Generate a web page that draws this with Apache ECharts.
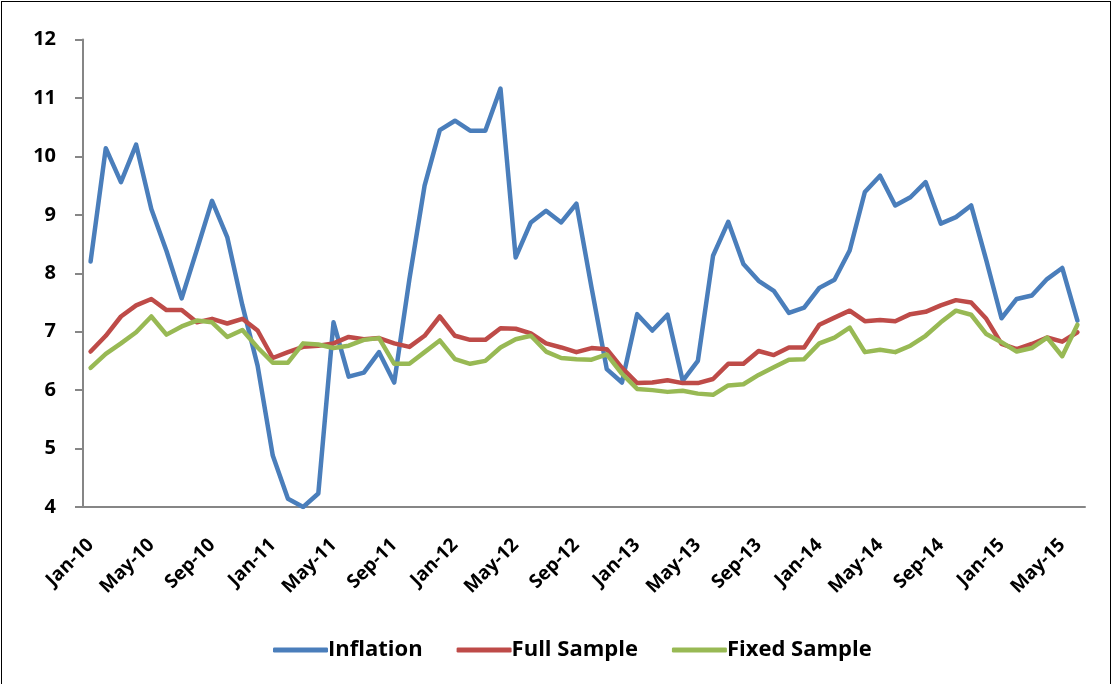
<!DOCTYPE html>
<html>
<head>
<meta charset="utf-8">
<script src="https://cdn.jsdelivr.net/npm/echarts@6/dist/echarts.min.js"></script>
<style>
  body { margin: 0; background: #fff; }
  #wrap { position: relative; width: 1113px; height: 684px; }
  #main { width: 1113px; height: 684px; }
  #frame { position: absolute; left: 1px; top: 1px; width: 1110px; height: 690px;
           border: 1px solid #000; box-sizing: border-box; pointer-events: none; }
</style>
</head>
<body>
<div id="wrap">
  <div id="main"></div>
  <div id="frame"></div>
</div>
<script>
// months Jan-10 .. Jun-15
var months = [
  'Jan-10','Feb-10','Mar-10','Apr-10','May-10','Jun-10','Jul-10','Aug-10','Sep-10','Oct-10','Nov-10','Dec-10',
  'Jan-11','Feb-11','Mar-11','Apr-11','May-11','Jun-11','Jul-11','Aug-11','Sep-11','Oct-11','Nov-11','Dec-11',
  'Jan-12','Feb-12','Mar-12','Apr-12','May-12','Jun-12','Jul-12','Aug-12','Sep-12','Oct-12','Nov-12','Dec-12',
  'Jan-13','Feb-13','Mar-13','Apr-13','May-13','Jun-13','Jul-13','Aug-13','Sep-13','Oct-13','Nov-13','Dec-13',
  'Jan-14','Feb-14','Mar-14','Apr-14','May-14','Jun-14','Jul-14','Aug-14','Sep-14','Oct-14','Nov-14','Dec-14',
  'Jan-15','Feb-15','Mar-15','Apr-15','May-15','Jun-15'
];

var inflation = [
  8.20, 10.14, 9.56, 10.20, 9.10, 8.38, 7.57, 8.40, 9.24, 8.62,
  7.45, 6.42, 4.88, 4.14, 4.00, 4.23, 7.16, 6.23, 6.30, 6.65,
  6.13, 7.90, 9.50, 10.45, 10.61, 10.44, 10.44, 11.16, 8.27, 8.87,
  9.07, 8.87, 9.19, 7.75, 6.36, 6.13, 7.30, 7.02, 7.29, 6.16,
  6.50, 8.30, 8.88, 8.16, 7.87, 7.70, 7.32, 7.41, 7.75, 7.89,
  8.39, 9.39, 9.67, 9.16, 9.30, 9.56, 8.85, 8.96, 9.16, 8.22,
  7.23, 7.56, 7.62, 7.90, 8.09, 7.19
];

var fullSample = [
  6.66, 6.93, 7.26, 7.45, 7.56, 7.37, 7.37, 7.16, 7.22, 7.14,
  7.22, 7.02, 6.55, 6.65, 6.74, 6.76, 6.80, 6.91, 6.87, 6.89,
  6.80, 6.74, 6.93, 7.26, 6.93, 6.86, 6.86, 7.06, 7.05, 6.97,
  6.80, 6.73, 6.65, 6.72, 6.70, 6.38, 6.12, 6.13, 6.17, 6.12,
  6.12, 6.19, 6.45, 6.45, 6.67, 6.60, 6.73, 6.73, 7.12, 7.24,
  7.36, 7.18, 7.20, 7.18, 7.30, 7.34, 7.45, 7.54, 7.50, 7.22,
  6.79, 6.70, 6.79, 6.90, 6.83, 6.99
];

var fixedSample = [
  6.38, 6.62, 6.80, 6.99, 7.26, 6.95, 7.09, 7.19, 7.16, 6.91,
  7.03, 6.73, 6.47, 6.47, 6.80, 6.78, 6.72, 6.76, 6.86, 6.89,
  6.45, 6.45, 6.65, 6.85, 6.53, 6.45, 6.50, 6.73, 6.87, 6.93,
  6.66, 6.55, 6.53, 6.52, 6.61, 6.28, 6.02, 6.00, 5.97, 5.99,
  5.94, 5.92, 6.08, 6.10, 6.26, 6.39, 6.52, 6.53, 6.80, 6.90,
  7.07, 6.65, 6.69, 6.65, 6.76, 6.93, 7.16, 7.36, 7.29, 6.96,
  6.82, 6.66, 6.72, 6.90, 6.58, 7.12
];

var font = '"Open Sans", sans-serif';

var myChart = echarts.init(document.getElementById('main'));

function line(name, data, color) {
  return {
    name: name,
    type: 'line',
    data: data,
    symbol: 'none',
    showSymbol: false,
    lineStyle: { color: color, width: 4.5, cap: 'round', join: 'round' },
    itemStyle: { color: color }
  };
}

var option = {
  animation: false,
  color: ['#4A7EBB', '#BE4B48', '#98B954'],
  grid: { left: 83, right: 28, top: 39.5, bottom: 177 },
  legend: {
    left: 268,
    top: 634,
    icon: 'roundRect',
    itemWidth: 55,
    itemHeight: 5,
    itemGap: 34,
    textStyle: { fontFamily: font, fontWeight: 'bold', fontSize: 22, color: '#000', padding: [0, 0, 0, -5] },
    data: ['Inflation', 'Full Sample', 'Fixed Sample']
  },
  xAxis: {
    type: 'category',
    data: months,
    boundaryGap: true,
    axisLine: { lineStyle: { color: '#868686', width: 2 } },
    axisTick: { interval: 3, length: 7, lineStyle: { color: '#868686', width: 2 } },
    axisLabel: {
      interval: 3,
      rotate: 45,
      margin: 35,
      fontFamily: font,
      fontWeight: 'bold',
      fontSize: 19,
      color: '#000'
    },
    splitLine: { show: false }
  },
  yAxis: {
    type: 'value',
    min: 4,
    max: 12,
    interval: 1,
    axisLine: { show: true, lineStyle: { color: '#868686', width: 2 } },
    axisTick: { show: true, length: 8, lineStyle: { color: '#868686', width: 2 } },
    axisLabel: { margin: 27, fontFamily: font, fontWeight: 'bold', fontSize: 20, color: '#000' },
    splitLine: { show: false }
  },
  series: [
    line('Inflation', inflation, '#4A7EBB'),
    line('Full Sample', fullSample, '#BE4B48'),
    line('Fixed Sample', fixedSample, '#98B954')
  ]
};

myChart.setOption(option);
</script>
</body>
</html>
